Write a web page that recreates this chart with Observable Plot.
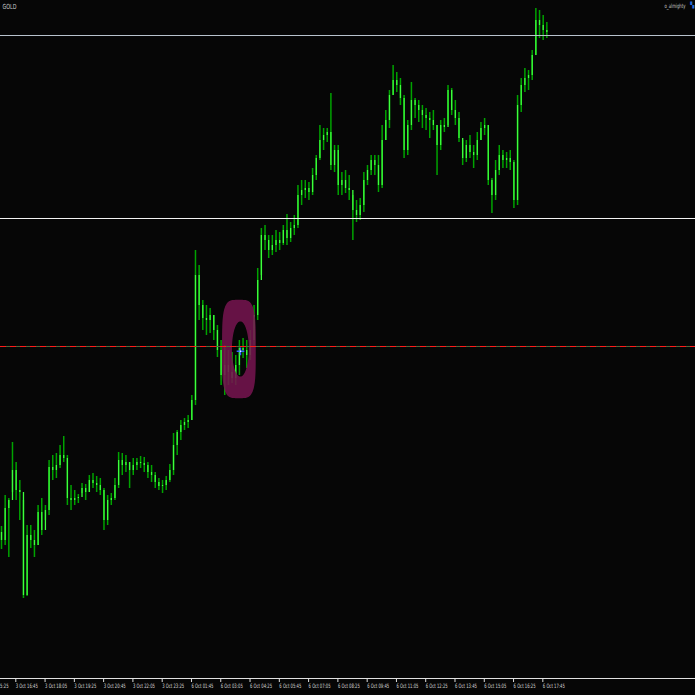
<!DOCTYPE html>
<html><head><meta charset="utf-8">
<script src="https://cdn.jsdelivr.net/npm/d3@7"></script>
<script src="https://cdn.jsdelivr.net/npm/@observablehq/plot@0.6"></script>
<style>
html,body{margin:0;padding:0;background:#060606;overflow:hidden;}
#chart svg{display:block;}
</style></head>
<body><div id="chart"></div>
<script>
const symbol = "GOLD";
const author = "o_almighty";
// bar high / low / close (open = previous close)
const highs = [3838.5,3846.25,3845.5,3859.5,3854.5,3850,3845,3838.75,3838.75,3837.5,3843.75,3845.5,3843.75,3855,3856.25,3856.75,3858.75,3861,3856.25,3848.75,
3847.5,3846.5,3849.25,3849,3851.25,3851.75,3851,3850.5,3848,3846.25,3846.75,3850.5,3857,3856.75,3856.25,3854.5,3855.5,3855.5,3856,3855.75,
3854.5,3853.75,3852,3850.5,3850,3851,3854,3861.75,3862.5,3865,3865.5,3866.25,3871.25,3907.5,3903.75,3895,3893.75,3893,3891.25,3888.75,
3885,3883.75,3882.5,3882,3881.25,3885,3885.5,3885,3887.5,3893.75,3903,3913,3913.75,3911.25,3911.25,3912.5,3912,3913.75,3916.5,3914.5,
3916.25,3923.75,3925,3925,3924.5,3928,3931.25,3938.75,3938,3938,3946.75,3933.75,3933.75,3927,3927.5,3926.25,3921.25,3920,3920.5,3927,
3928.75,3931.25,3931.25,3931.25,3938.75,3942.5,3947.5,3953.75,3952,3950.5,3946.25,3940,3949.5,3945.5,3945,3943.75,3943,3942,3942.5,3938.75,
3940,3940.5,3948.75,3948,3945,3942,3935,3935,3936.25,3933.75,3937,3939.5,3940.5,3938.75,3925.5,3930,3933.75,3932.5,3932,3932.5,
3930,3946.25,3950.5,3953,3952.5,3957.5,3968,3967.5,3966.25,3964.5];
const lows = [3832.75,3833.75,3830.75,3847,3845,3840,3820.5,3821,3833,3830.75,3833.75,3836.25,3840,3841.25,3850,3850.5,3853,3854.5,3843.75,3842.5,
3843.75,3844.25,3846.75,3845,3847,3848,3847,3846.25,3837.5,3838.75,3843.75,3845,3848,3851.25,3852,3848,3851.25,3852.5,3853,3852,
3850.5,3849.5,3848,3847.5,3846.75,3847.5,3849.5,3851.25,3856.25,3860,3862.5,3863,3865,3868.75,3890,3887.5,3886.25,3886.75,3885,3880.75,
3873.75,3871.25,3873.75,3874.25,3873.75,3876.25,3880.5,3878,3880,3883.75,3890,3901.25,3907.5,3905.5,3906.25,3907,3907.5,3908.75,3908.75,3909.5,
3911.25,3913,3918.75,3920.5,3920,3921.25,3925,3930,3932.5,3934.5,3927.5,3927,3921.25,3921.25,3921.75,3920,3910,3914.5,3915,3917,
3923.75,3926.25,3926.25,3922,3923,3935,3938,3946.25,3947,3943.75,3930.5,3931.25,3937.5,3940.5,3939.5,3938,3937.5,3935.5,3937.5,3926.25,
3932.5,3937,3938.75,3941.25,3938.75,3934.5,3928.75,3929.5,3930.5,3928,3930,3935,3936.25,3923.75,3916.75,3920,3926.25,3928,3928,3927.5,
3918,3918.75,3942,3947,3947.5,3950,3956.25,3960.5,3960,3960.5];
const closes = [3835,3843,3845,3852.5,3847.5,3847,3821.25,3836.25,3835,3833.75,3842,3837.5,3842.5,3853.25,3852.5,3853.75,3856.25,3855.5,3845.5,3845,
3845.5,3845.75,3848,3847,3850,3849.25,3848.75,3847.5,3840,3845,3845.5,3848.75,3855,3853.75,3854.5,3852.5,3853.75,3854.5,3854.25,3853.75,
3852,3851.25,3849.5,3848.5,3848.75,3850,3852.5,3858.75,3862,3863.75,3864.5,3865,3870,3901.25,3893.75,3890.5,3890,3891.25,3887.5,3882.5,
3876.25,3878.75,3877,3875.5,3878.75,3883,3882.5,3881.25,3885,3891.25,3900,3911.25,3910,3907.5,3908.75,3910,3909.25,3912.5,3910.5,3913,
3913.75,3921.25,3922.5,3923,3922,3926.25,3930.5,3935,3936.25,3937,3928.75,3932.5,3923.75,3925,3923,3922.5,3917.5,3916.25,3918.75,3925,
3927.5,3930,3928.75,3923.75,3935,3940,3946.25,3950,3948.75,3945.5,3932.5,3938.75,3945,3943.75,3942.5,3941.25,3940.5,3940,3938.75,3933.75,
3938.75,3938.25,3947.5,3942.5,3940.5,3935.5,3930.5,3933.75,3932,3931.25,3935,3938,3938.75,3925,3921.25,3927.5,3931.25,3930,3930.5,3929.5,
3920,3943.75,3948.75,3950.5,3951.25,3956.25,3965,3963.75,3962.5,3962];
const firstOpen = 3837;

// horizontal levels
const levels = [3961.25, 3915.5];
const levelColors = ["#b8c2cc", "#f2f2f2"];
const dashedLevel = 3883.5;

// highlight ring (bar index / price)
const ringCenter = {bar: 65, price: 3882.75};
const ringOuter = {bars: 4.6, price: 12.3};
const ringInner = {bars: 2.3, price: 6.9, shiftBar: 0.4};
const markerPoint = {bar: 65.3, price: 3882.3};

// time axis
const tickBars = [-4.64,3.36,11.36,19.36,27.36,35.36,43.36,51.36,59.36,67.36,75.36,83.36,91.36,99.36,107.36,115.36,123.36,131.36,139.36,147.36];
const tickLabels = ["3 Oct 15:25","3 Oct 16:45","3 Oct 18:05","3 Oct 19:25","3 Oct 20:45","3 Oct 22:05","3 Oct 23:25","6 Oct 01:45","6 Oct 03:05","6 Oct 04:25","6 Oct 05:45","6 Oct 07:05","6 Oct 08:25","6 Oct 09:45","6 Oct 11:05","6 Oct 12:25","6 Oct 13:45","6 Oct 15:05","6 Oct 16:25","6 Oct 17:45"];

const bars = highs.map((h, i) => ({
  i, high: h, low: lows[i], close: closes[i],
  open: i === 0 ? firstOpen : closes[i - 1]
}));
const labelMap = new Map(tickBars.map((t, k) => [t, tickLabels[k]]));

const plot = Plot.plot({
  width: 695, height: 695,
  marginTop: 0, marginBottom: 17, marginLeft: 0, marginRight: 0,
  style: {background: "#060606", color: "#d0d0d0", fontFamily: "DejaVu Sans Condensed, Liberation Sans Narrow, sans-serif"},
  x: {domain: [-0.2732, 189.617], axis: null},
  y: {domain: [3800.5, 3970], axis: null},
  marks: [
    Plot.ruleX(bars, {x: "i", y1: "low", y2: "high", stroke: "#00a300", strokeWidth: 1.5}),
    Plot.ruleX(bars, {x: "i", y1: "open", y2: "close", stroke: "#3dff3d", strokeWidth: 1.3}),
    Plot.ruleY(levels, {y: d => d, stroke: (d, k) => levelColors[k]}),
    Plot.ruleY([dashedLevel], {stroke: "#4f6a3c", strokeWidth: 1}),
    Plot.ruleY([dashedLevel], {stroke: "#ff1a1a", strokeWidth: 1, strokeDasharray: "6,4"}),
    Plot.dot([markerPoint], {x: "bar", y: "price", symbol: "plus", r: 2.6, stroke: "#2f66ff", strokeWidth: 1.4}),
    Plot.dot([markerPoint], {x: "bar", y: "price", r: 0.8, fill: "#ffffff"}),
    Plot.frame({anchor: "bottom", stroke: "#e0e0e0"}),
    Plot.axisX({ticks: tickBars, tickFormat: d => labelMap.get(d), tickSize: 4, tickPadding: 1,
      textAnchor: "start", dx: 2, fontSize: 6, stroke: "#e0e0e0", fill: "#d8d8d8"}),
    Plot.text([symbol], {frameAnchor: "top-left", dx: 2, dy: 4, fill: "#c8c8c8", fontSize: 7, textAnchor: "start"}),
    Plot.text([author], {frameAnchor: "top-right", dx: -10, dy: 3, fill: "#c8c8c8", fontSize: 6, textAnchor: "end"}),
    Plot.text(["▚"], {frameAnchor: "top-right", dx: -1, dy: 2, fill: "#2a6bd8", fontSize: 6, textAnchor: "end"})
  ]
});

// tighten axis labels
d3.select(plot).selectAll("g[aria-label='x-axis tick label'] text")
  .attr("textLength", 22).attr("lengthAdjust", "spacingAndGlyphs");
d3.select(plot).selectAll("g[aria-label='text'] text").each(function() {
  const t = this.textContent;
  if (t === symbol) d3.select(this).attr("textLength", 14).attr("lengthAdjust", "spacingAndGlyphs");
  if (t === author) d3.select(this).attr("textLength", 21).attr("lengthAdjust", "spacingAndGlyphs");
});

// highlight ring through the plot's scales
const sx = plot.scale("x"), sy = plot.scale("y");
function shape(cb, cp, rb, rp, n, steps) {
  const pts = [];
  for (let k = 0; k < steps; k++) {
    const a = (k / steps) * 2 * Math.PI;
    const c = Math.cos(a), s = Math.sin(a);
    const fx = Math.sign(c) * Math.pow(Math.abs(c), 2 / n);
    const fy = Math.sign(s) * Math.pow(Math.abs(s), 2 / n);
    pts.push([sx.apply(cb + rb * fx), sy.apply(cp + rp * fy)]);
  }
  return "M" + pts.map(p => p.join(",")).join("L") + "Z";
}
const ringPath = shape(ringCenter.bar, ringCenter.price, ringOuter.bars, ringOuter.price, 4, 160) +
  shape(ringCenter.bar + ringInner.shiftBar, ringCenter.price, ringInner.bars, ringInner.price, 2, 120);
const svgNS = "http://www.w3.org/2000/svg";
const ring = document.createElementNS(svgNS, "path");
ring.setAttribute("d", ringPath);
ring.setAttribute("fill", "#74154e");
ring.setAttribute("fill-opacity", "0.88");
ring.setAttribute("fill-rule", "evenodd");
const body = plot.querySelector("g[stroke='#3dff3d']");
if (body) body.after(ring); else plot.appendChild(ring);

document.getElementById("chart").appendChild(plot);
</script>
</body></html>
